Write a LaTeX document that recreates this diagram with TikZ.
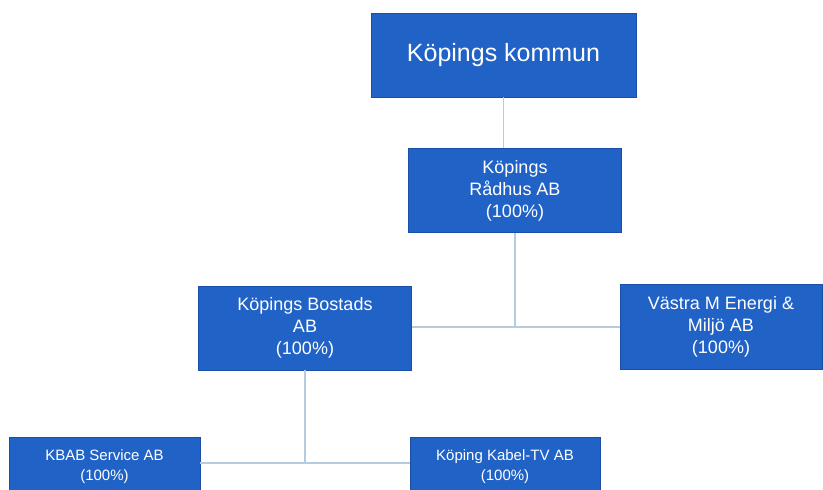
\documentclass[tikz,border=0pt]{standalone}
\usepackage{fontspec}
\setmainfont{Liberation Sans}
\definecolor{boxblue}{HTML}{2062C6}
\definecolor{boxedge}{HTML}{1A4FA8}
\definecolor{linkcol}{HTML}{B4CCDD}
\begin{document}
\begin{tikzpicture}[x=1pt,y=-1pt,
  orgbox/.style={rectangle, fill=boxblue, draw=boxedge, line width=0.6pt, text=white, align=center, inner sep=0pt},
  midtext/.style={font=\fontsize{18}{22}\selectfont},
  smalltext/.style={font=\fontsize{15}{20}\selectfont},
  link/.style={draw=linkcol, line width=1.3pt}]
\useasboundingbox (0,0) rectangle (823,490);
\clip (0,0) rectangle (823,490);
\fill[white] (0,0) rectangle (823,490);
\node[orgbox, minimum width=265pt, minimum height=84pt, font=\fontsize{25}{30}\selectfont] (kommun) at (503.5,55) {Köpings kommun};
\node[orgbox, midtext, minimum width=213pt, minimum height=84pt] (radhus) at (515,190.5) {Köpings\\Rådhus AB\\(100\%)};
\node[orgbox, midtext, minimum width=213pt, minimum height=84pt] (bostads) at (305,328) {Köpings Bostads\\AB\\(100\%)};
\node[orgbox, midtext, minimum width=202pt, minimum height=85pt] (vastra) at (721,327) {Västra M Energi \&\\Miljö AB\\(100\%)};
\node[orgbox, smalltext, minimum width=191pt, minimum height=60pt] (kbab) at (104.5,467) {KBAB Service AB\\(100\%)};
\node[orgbox, smalltext, minimum width=190pt, minimum height=60pt] (kabel) at (505,467) {Köping Kabel-TV AB\\(100\%)};
\coordinate (j1) at (515,327);
\coordinate (j2) at (305,463);
\draw[link] (kommun.south) -- (kommun.south |- radhus.north);
\draw[link] (radhus.south) -- (j1);
\draw[link] (bostads.east |- j1) -- (vastra.west |- j1);
\draw[link] (bostads.south) -- (j2);
\draw[link] (kbab.east |- j2) -- (kabel.west |- j2);
\end{tikzpicture}
\end{document}
